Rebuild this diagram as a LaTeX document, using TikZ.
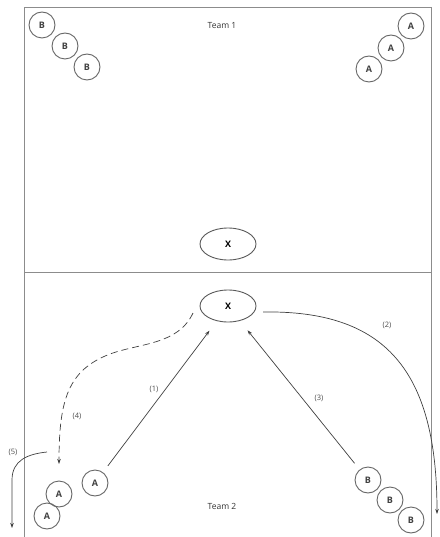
\documentclass[tikz,border=0pt]{standalone}
\usepackage{fontspec}
\setmainfont{Open Sans}
\usetikzlibrary{arrows.meta,shapes.geometric}
\begin{document}
\begin{tikzpicture}[x=1pt,y=-1pt,
  court/.style={draw=black!45, line width=1pt},
  player/.style={circle, draw=black!60, line width=0.9pt, minimum size=26pt, inner sep=0pt, font=\fontsize{9}{10}\selectfont\bfseries, text=black!75},
  ball/.style={ellipse, draw=black!65, line width=0.9pt, minimum width=56pt, minimum height=32pt, inner sep=0pt, font=\fontsize{9}{10}\selectfont\bfseries},
  lbl/.style={font=\fontsize{7.5}{9}\selectfont, text=black!70},
  team/.style={font=\fontsize{8.5}{10}\selectfont, text=black!80},
  mv/.style={draw=black!75, line width=0.7pt, -{Stealth[length=5pt,width=3.5pt]}}]
\useasboundingbox (0,0) rectangle (439,537);
% court
\draw[court] (24,540) -- (24,8) -- (431,8) -- (431,540);
\draw[court] (24,272) -- (431,272);
% team labels
\node[team] (t1) at (222,26) {Team 1};
\node[team] (t2) at (222,506) {Team 2};
% top players
\node[player] (tb1) at (42,25) {B};
\node[player] (tb2) at (65,46) {B};
\node[player] (tb3) at (87,67) {B};
\node[player] (ta1) at (411,26) {A};
\node[player] (ta2) at (391,48) {A};
\node[player] (ta3) at (369,69) {A};
% balls
\node[ball] (x1) at (228,244) {X};
\node[ball] (x2) at (228,306) {X};
% bottom players
\node[player] (a1) at (95,483) {A};
\node[player] (a2) at (59,494) {A};
\node[player] (a3) at (47,516) {A};
\node[player] (b1) at (368,480) {B};
\node[player] (b2) at (390,500) {B};
\node[player] (b3) at (411,520) {B};
% coordinates
\coordinate (c2s) at (263,312);
\coordinate (c2e) at (437,514);
\coordinate (c4s) at (193,313);
\coordinate (c4e) at (59,464);
\coordinate (c5s) at (47,452);
\coordinate (c5e) at (12,528);
% moves
\draw[mv, shorten <=8pt, shorten >=12pt] (a1) -- (x2);
\draw[mv, shorten <=8pt, shorten >=12pt] (b1) -- (x2);
\draw[mv] (c2s) .. controls (385,310) and (437,370) .. (c2e);
\draw[mv, dashed, dash pattern=on 7pt off 4pt] (c4s) .. controls (178,345) and (140,343) .. (110,354) .. controls (68,370) and (59,400) .. (c4e);
\draw[mv] (c5s) .. controls (28,454) and (12,460) .. (12,480) -- (c5e);
% labels
\node[lbl] (l1) at (154,389) {(1)};
\node[lbl] (l2) at (387,325) {(2)};
\node[lbl] (l3) at (319,398) {(3)};
\node[lbl] (l4) at (77,416) {(4)};
\node[lbl] (l5) at (13,452) {(5)};
\end{tikzpicture}
\end{document}
